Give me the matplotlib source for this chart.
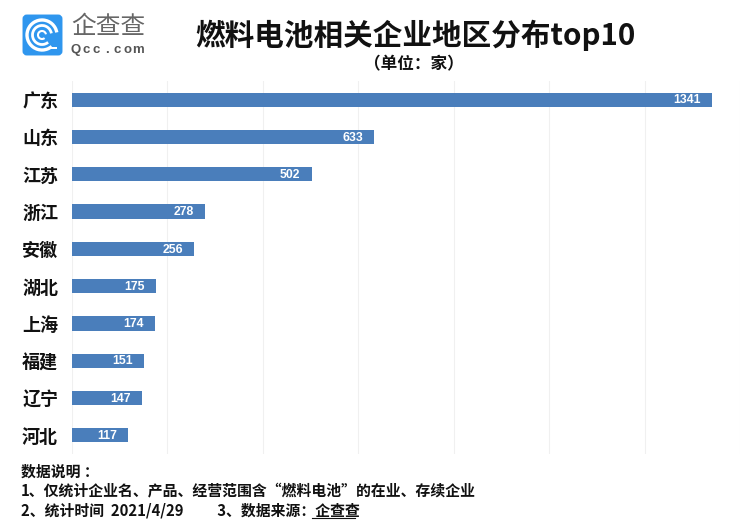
import matplotlib
matplotlib.use("Agg")
import matplotlib.pyplot as plt
from matplotlib.patches import Arc, FancyBboxPatch, Rectangle

plt.rcParams["font.family"] = ["Noto Sans CJK SC", "DejaVu Sans"]

W, H = 744, 530

regions = ["广东", "山东", "江苏", "浙江", "安徽", "湖北", "上海", "福建", "辽宁", "河北"]
counts = [1341, 633, 502, 278, 256, 175, 174, 151, 147, 117]
x_ticks = [0, 200, 400, 600, 800, 1000, 1200, 1400]

title = "燃料电池相关企业地区分布top10"
unit = "（单位：家）"
notes = [
    "数据说明 ：",
    "1、仅统计企业名、产品、经营范围含“燃料电池”的在业、存续企业",
    "2、统计时间  2021/4/29          3、数据来源：企查查",
]

BAR = "#4a7ebb"
TEXT = "#111111"


def fx(px):
    return px / W


def fy(py):
    return 1 - py / H


fig = plt.figure(figsize=(W / 100, H / 100), dpi=100, facecolor="white")

# ------------------------------------------------------------
# Bars
# ------------------------------------------------------------
ax = fig.add_axes([fx(72), fy(454), 668 / W, 373 / H])
ax.barh(range(len(regions)), counts, height=0.38, color=BAR, zorder=3)
ax.set_xlim(0, 1400)
ax.set_ylim(9.5, -0.5)
ax.set_xticks(x_ticks)
ax.set_yticks(range(len(regions)))
ax.set_yticklabels(regions, fontsize=13, fontweight="bold", color=TEXT)
ax.tick_params(length=0, labelbottom=False, pad=10)
ax.grid(axis="x", color="#f0f0f0", linewidth=0.8, zorder=0)
for side in ax.spines.values():
    side.set_visible(False)

for i, value in enumerate(counts):
    ax.annotate(
        str(value),
        (value, i),
        xytext=(-8, -0.5),
        textcoords="offset points",
        ha="right",
        va="center",
        color="white",
        fontsize=8.8,
        fontweight="bold",
        family="Liberation Sans",
        zorder=4,
    )

# ------------------------------------------------------------
# Title and notes
# ------------------------------------------------------------
fig.text(fx(415), fy(35), title, ha="center", va="center", fontsize=21.3,
         fontweight="bold", color=TEXT)
fig.text(fx(414), fy(64), unit, ha="center", va="center", fontsize=12,
         fontweight="bold", color=TEXT)

for text, py in zip(notes, [472, 491, 511]):
    fig.text(fx(21), fy(py), text, ha="left", va="center", fontsize=10.7,
             fontweight="bold", color=TEXT)
fig.add_artist(plt.Line2D([fx(312), fx(355)], [fy(518), fy(518)], color=TEXT, linewidth=0.8))

# ------------------------------------------------------------
# Logo
# ------------------------------------------------------------
logo = fig.add_axes([0, 0, 1, 1], zorder=5)
logo.set_xlim(0, W)
logo.set_ylim(H, 0)
logo.axis("off")
logo.add_patch(FancyBboxPatch((26, 18), 33, 34, boxstyle="round,pad=0,rounding_size=1",
                              facecolor="#2f96ee", edgecolor="#2f96ee", linewidth=5))
for size, lw in [(30, 2.4), (19, 2.0), (8, 1.5)]:
    logo.add_patch(Arc((42, 35), size, size, theta1=50, theta2=350, color="white", linewidth=lw))
logo.add_patch(Rectangle((49, 47), 8, 2, facecolor="white", edgecolor="none"))
logo.text(108, 27, "企查查", ha="center", va="center", fontsize=17.8, color="#666666",
          fontweight="light")
for n, ch in enumerate("Qcc.com"):
    logo.text(76 + n * 10.3, 50, ch, ha="center", va="center", fontsize=9.5, color="#555555",
              fontweight="bold", family="Liberation Sans")

fig.savefig("out.png", dpi=100)
plt.close(fig)
